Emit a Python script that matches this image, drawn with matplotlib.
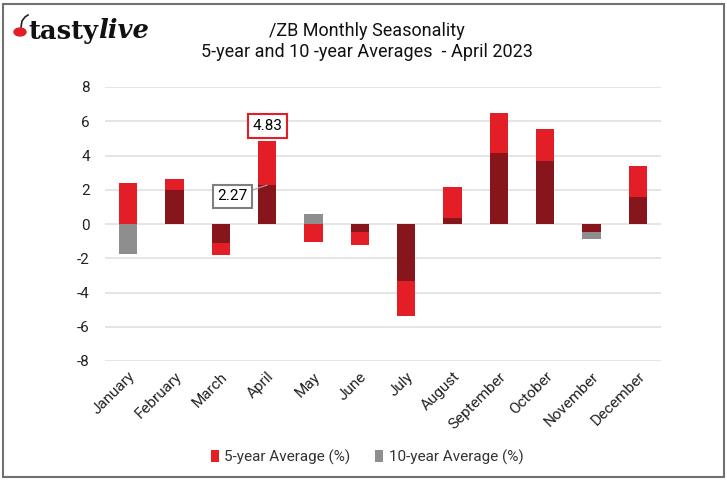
import numpy as np
import matplotlib
matplotlib.use("Agg")
import matplotlib.pyplot as plt
from matplotlib.patches import Rectangle, Circle
from matplotlib.lines import Line2D

# data
months = ["January", "February", "March", "April", "May", "June", "July",
          "August", "September", "October", "November", "December"]
avg_5yr = [2.39, 2.64, -1.79, 4.83, -1.04, -1.25, -5.40, 2.16, 6.51, 5.55, -0.48, 3.41]
avg_10yr = [-1.73, 1.97, -1.10, 2.27, 0.56, -0.48, -3.34, 0.36, 4.14, 3.70, -0.85, 1.58]
yticks = [-8, -6, -4, -2, 0, 2, 4, 6, 8]

RED = "#e31e26"
DARK = "#86161b"
GRAY = "#8e8e8e"

plt.rcParams['font.family'] = ['Roboto', 'DejaVu Sans']

fig = plt.figure(figsize=(7.27, 4.80), dpi=100)
ax = fig.add_axes([105/727, 1 - 361/480, 556/727, 274/480])

x = np.arange(len(months))
a5 = np.array(avg_5yr)
a10 = np.array(avg_10yr)
# overlap part where both averages share a sign -> dark red
same = np.sign(a5) == np.sign(a10)
overlap = np.where(same, np.sign(a5) * np.minimum(np.abs(a5), np.abs(a10)), 0)

w = 0.39
ax.bar(x, a5, w, color=RED, label="5-year Average (%)", zorder=2)
ax.bar(x, a10, w, color=GRAY, label="10-year Average (%)", zorder=3)
ax.bar(x, overlap, w, color=DARK, zorder=4)

ax.set_xlim(-0.5, 11.5)
ax.set_ylim(-8, 8)
ax.set_yticks(yticks)
ax.set_yticklabels([str(t) for t in yticks], fontsize=11, color="#222222")
ax.set_xticks(x)
ax.set_xticklabels(months, rotation=45, ha="right", rotation_mode="anchor",
                   fontsize=11, color="#222222")
ax.tick_params(length=0, pad=11, axis="y")
ax.tick_params(length=0, pad=6, axis="x")
ax.grid(axis="y", color="#e0e0e0", linewidth=1.2, zorder=0)
for s in ax.spines.values():
    s.set_visible(False)

# value labels for April
i = months.index("April")
ax.annotate(f"{avg_5yr[i]:.2f}", (x[i], avg_5yr[i]), xytext=(0, 11),
            textcoords="offset points", ha="center", va="center", fontsize=11,
            bbox=dict(boxstyle="square,pad=0.3", fc="white", ec=RED, lw=1.5), zorder=6)
ax.annotate(f"{avg_10yr[i]:.2f}", (x[i], avg_10yr[i]), xytext=(-14, -8),
            textcoords="offset points", ha="right", va="center", fontsize=11,
            bbox=dict(boxstyle="square,pad=0.3", fc="white", ec="#7f7f7f", lw=1.5),
            arrowprops=dict(arrowstyle="-", color="#aaaaaa", lw=0.8,
                            shrinkA=0, shrinkB=0), zorder=6)

leg = fig.legend(loc="center", bbox_to_anchor=(367/727, 1 - 457/480), ncol=2,
                 frameon=False, fontsize=11, handlelength=0.55, handleheight=0.8,
                 handletextpad=0.35, columnspacing=1.6)
for t in leg.get_texts():
    t.set_color("#333333")

# titles
fig.text(367/727, 1 - 31/480, "/ZB Monthly Seasonality", ha="center", va="center",
         fontsize=13, color="#111111")
fig.text(367/727, 1 - 52/480, "5-year and 10 -year Averages  - April 2023",
         ha="center", va="center", fontsize=13, color="#111111")

# logo
fig.patches.append(Circle((20/727, 1 - 32/480), 6/727, transform=fig.transFigure,
                          color=RED, zorder=5))
fig.lines.append(Line2D([21/727, 22/727, 25/727, 28/727],
                        [1 - 27/480, 1 - 21/480, 1 - 17/480, 1 - 15/480],
                        transform=fig.transFigure, color="#222222", lw=1.2))
t1 = fig.text(28/727, 1 - 31/480, "tasty", fontsize=18.5, fontweight="bold",
              va="center", color="#111111", family="DejaVu Serif")
bb = t1.get_window_extent(renderer=fig.canvas.get_renderer())
fig.text(bb.x1/727 + 0.5/727, 1 - 31/480, "live", fontsize=18.5, fontweight="bold",
         style="italic", va="center", color="#111111", family="DejaVu Serif")

# outer border
fig.patches.append(Rectangle((3/727, 3/480), 721/727, 473/480, transform=fig.transFigure,
                             fill=False, ec="#707070", lw=1.5))

fig.savefig("out.png", dpi=100)
